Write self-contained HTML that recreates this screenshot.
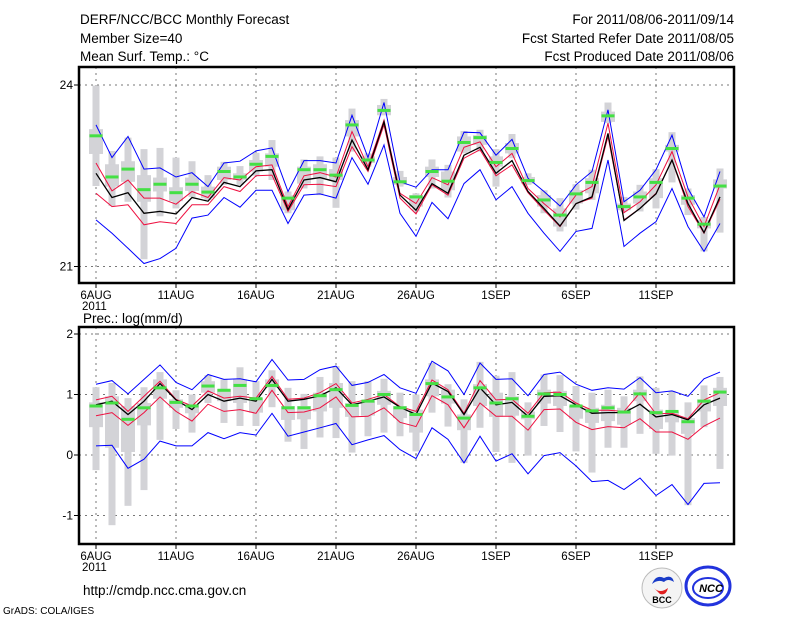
<!DOCTYPE html>
<html><head><meta charset="utf-8"><style>
body{margin:0;background:#fff;}
svg text{font-family:"Liberation Sans",sans-serif;fill:#000;}
</style></head><body>
<svg id="c" width="800" height="618" xmlns="http://www.w3.org/2000/svg">
<g font-size="13.5">
<text x="80" y="24">DERF/NCC/BCC Monthly Forecast</text>
<text x="80" y="43">Member Size=40</text>
<text x="80" y="61">Mean Surf. Temp.: °C</text>
<text x="734" y="24" text-anchor="end">For 2011/08/06-2011/09/14</text>
<text x="734" y="43" text-anchor="end">Fcst Started Refer Date 2011/08/05</text>
<text x="734" y="61" text-anchor="end">Fcst Produced Date 2011/08/06</text>
<text x="83" y="323">Prec.: log(mm/d)</text>
<text x="83" y="595">http://cmdp.ncc.cma.gov.cn</text>
<text x="3" y="614" font-size="10">GrADS: COLA/IGES</text>
</g>
<g>
<circle cx="662" cy="588" r="20" fill="#f4f4f4" stroke="#bbb"/>
<path d="M652 584 q4 -10 12 -6 q8 -4 10 4 q-6 -4 -10 0 q-6 -3 -12 2z" fill="#1a3cc8"/>
<path d="M654 588 q6 6 14 0 q-2 8 -8 6z" fill="#e02020"/>
<text x="662" y="603" font-size="9" text-anchor="middle" font-weight="bold" fill="#222">BCC</text>
<ellipse cx="708" cy="586" rx="22" ry="19" fill="#fff" stroke="#2233dd" stroke-width="3"/>
<ellipse cx="708" cy="588" rx="15" ry="10" fill="none" stroke="#2233dd" stroke-width="2"/>
<text x="711" y="592" font-size="11" text-anchor="middle" font-weight="bold" font-style="italic" fill="#2233dd">NCC</text>
</g>
</svg>
<script>
// ---- data: top panel (temperature, deg C), days 6AUG..14SEP ----
const dayLabels=["6AUG","11AUG","16AUG","21AUG","26AUG","1SEP","6SEP","11SEP"];
const tBlueHi=[23.34,22.80,23.15,22.61,22.63,22.48,22.55,22.32,22.71,22.74,22.91,22.96,22.24,22.75,22.75,22.71,23.50,22.80,23.71,22.40,22.31,22.60,22.60,23.22,23.21,22.84,23.10,22.46,22.24,22.00,22.35,22.57,23.59,22.07,22.26,22.60,23.17,22.29,21.82,22.57];
const tBlueLo=[21.77,21.55,21.30,21.05,21.13,21.30,21.80,21.85,22.14,21.98,22.26,22.26,21.71,22.18,22.20,22.13,22.80,22.36,23.01,21.88,21.50,22.06,21.79,22.37,22.60,22.10,22.32,21.88,21.55,21.25,21.58,21.63,22.76,21.33,21.55,21.74,22.29,21.66,21.25,21.71];
const tMean=[22.54,22.14,22.22,21.88,21.91,21.87,22.14,22.08,22.39,22.32,22.58,22.60,21.94,22.43,22.47,22.40,23.09,22.60,23.39,22.18,21.93,22.37,22.21,22.84,22.97,22.54,22.75,22.24,21.96,21.67,22.04,22.15,23.20,21.76,21.96,22.20,22.76,22.04,21.56,22.15];
const tRedHi=[22.71,22.25,22.43,22.13,22.13,22.03,22.24,22.14,22.47,22.43,22.65,22.68,21.99,22.50,22.55,22.48,23.23,22.65,23.42,22.21,22.04,22.47,22.35,22.97,23.06,22.65,22.87,22.29,22.04,21.82,22.18,22.32,23.37,21.89,22.07,22.35,22.90,22.15,21.66,22.35];
const tRedLo=[22.21,21.99,22.02,21.69,21.74,21.71,22.02,22.02,22.32,22.24,22.50,22.51,21.91,22.35,22.36,22.32,22.98,22.57,23.34,22.13,21.87,22.35,22.18,22.79,22.93,22.50,22.68,22.22,21.93,21.66,22.04,22.13,23.15,21.77,21.96,22.21,22.76,21.99,21.55,22.11];
const tGreen=[23.16,22.48,22.61,22.27,22.36,22.22,22.36,22.23,22.57,22.48,22.69,22.82,22.13,22.60,22.60,22.51,23.34,22.76,23.58,22.40,22.15,22.57,22.41,23.05,23.13,22.72,22.95,22.42,22.10,21.85,22.20,22.39,23.49,21.99,22.15,22.39,22.95,22.13,21.70,22.33];
const tMax=[23.99,22.91,23.13,22.94,22.96,22.80,22.74,22.51,22.73,22.66,22.88,23.09,22.24,22.77,22.82,22.80,23.61,22.87,23.77,22.58,22.21,22.77,22.68,23.24,23.26,22.94,23.19,22.54,22.26,22.13,22.36,22.60,23.71,22.15,22.35,22.61,23.22,22.29,21.82,22.62];
const tMin=[22.33,22.00,22.07,21.12,21.83,21.96,22.15,22.10,22.35,22.35,22.50,22.43,21.88,22.29,22.18,21.97,22.90,22.65,23.50,22.32,21.91,22.29,22.14,22.87,22.90,22.32,22.79,22.35,21.88,21.58,21.94,22.10,23.37,21.91,21.91,21.96,22.39,21.85,21.25,21.56];
const tQ3=[23.27,22.69,22.74,22.51,22.47,22.31,22.47,22.32,22.65,22.54,22.76,22.87,22.18,22.65,22.69,22.61,23.42,22.82,23.67,22.48,22.18,22.65,22.57,23.15,23.17,22.82,23.04,22.48,22.18,21.96,22.26,22.46,23.56,22.04,22.24,22.46,23.01,22.18,21.77,22.44];
const tQ1=[22.86,22.32,22.40,22.07,22.24,22.08,22.25,22.13,22.43,22.43,22.57,22.65,21.93,22.37,22.46,22.43,23.15,22.71,23.50,22.35,21.99,22.48,22.26,22.90,23.01,22.65,22.87,22.37,21.99,21.66,22.04,22.21,23.39,21.93,22.04,22.13,22.90,22.02,21.63,22.29];
const tTicks=[24,21];
// ---- data: bottom panel (precip, log mm/d) ----
const pBlueHi=[1.17,1.23,1.01,1.25,1.49,1.20,1.08,1.33,1.25,1.26,1.21,1.58,1.24,1.25,1.41,1.47,1.15,1.20,1.33,1.11,1.02,1.55,1.39,1.00,1.52,1.25,1.26,0.98,1.33,1.37,1.17,1.07,1.11,1.09,1.28,1.03,1.06,0.97,1.26,1.37];
const pBlueLo=[0.15,0.16,-0.22,-0.07,0.23,0.15,0.15,0.37,0.27,0.37,0.33,0.69,0.31,0.38,0.45,0.52,0.17,0.25,0.32,0.09,-0.06,0.45,0.26,-0.13,0.31,-0.10,0.02,-0.31,-0.01,0.04,-0.18,-0.44,-0.42,-0.57,-0.38,-0.67,-0.49,-0.82,-0.47,-0.46];
const pMean=[0.83,0.89,0.67,0.89,1.18,0.91,0.75,1.00,0.89,0.94,0.89,1.25,0.89,0.92,0.98,1.11,0.83,0.89,0.96,0.79,0.67,1.19,1.05,0.67,1.11,0.83,0.87,0.64,0.97,0.98,0.83,0.69,0.70,0.70,0.84,0.63,0.67,0.58,0.83,0.94];
const pRedHi=[0.91,0.97,0.72,0.97,1.22,0.92,0.81,1.06,0.94,0.97,0.94,1.30,0.92,0.94,1.03,1.18,0.86,0.92,1.00,0.80,0.72,1.24,1.08,0.69,1.23,0.91,0.92,0.69,1.03,1.04,0.86,0.74,0.74,0.72,1.03,0.68,0.69,0.60,0.91,1.03];
const pRedLo=[0.65,0.70,0.49,0.70,0.96,0.72,0.56,0.84,0.72,0.75,0.69,1.07,0.70,0.71,0.78,0.96,0.63,0.64,0.78,0.54,0.47,0.98,0.83,0.45,0.86,0.64,0.64,0.41,0.75,0.76,0.54,0.42,0.47,0.45,0.60,0.38,0.38,0.26,0.48,0.61];
const pGreen=[0.81,0.86,0.59,0.78,1.11,0.87,0.81,1.14,1.07,1.15,0.93,1.15,0.78,0.78,0.98,1.08,0.82,0.89,1.00,0.78,0.67,1.18,0.96,0.61,1.11,0.86,0.93,0.64,1.01,1.00,0.81,0.73,0.78,0.71,1.01,0.70,0.72,0.55,0.89,1.04];
const pMax=[1.12,1.19,0.94,1.12,1.37,1.07,1.00,1.32,1.25,1.45,1.22,1.40,1.11,1.01,1.29,1.47,1.22,1.22,1.26,1.03,1.00,1.52,1.17,0.92,1.54,1.31,1.37,0.87,1.33,1.32,1.14,1.03,1.08,0.97,1.30,1.11,1.06,0.87,1.15,1.29];
const pMin=[-0.25,-1.16,-0.84,-0.58,0.25,0.43,0.37,0.86,0.53,0.48,0.48,0.79,0.22,0.10,0.29,0.28,0.04,0.31,0.37,0.31,0.06,0.70,0.47,-0.13,0.45,0.05,-0.13,-0.01,0.48,0.38,0.06,-0.29,0.12,0.12,0.35,0.02,-0.01,-0.83,0.46,-0.23];
const pQ3=[0.87,0.97,0.81,0.86,1.25,0.92,0.83,1.22,1.09,1.25,0.94,1.25,0.81,0.81,1.03,1.19,0.86,0.89,1.06,0.81,0.75,1.25,1.08,0.67,1.17,1.03,0.97,0.72,1.08,1.06,0.81,0.78,0.83,0.78,1.08,0.75,0.72,0.61,0.92,1.11];
const pQ1=[0.46,0.12,0.05,0.49,0.93,0.78,0.69,1.03,0.89,0.86,0.70,1.11,0.58,0.59,0.72,0.78,0.63,0.65,0.83,0.61,0.37,0.97,0.85,0.41,0.81,0.63,0.65,0.59,0.85,0.81,0.60,0.53,0.56,0.50,0.89,0.43,0.54,0.35,0.72,0.81];
const pTicks=[2,1,0,-1];

const NS="http://www.w3.org/2000/svg";
const svg=document.getElementById('c');
const X0=79,X1=734;
function xd(d){return 96+16*d;}
function el(tag,attrs,parent){const e=document.createElementNS(NS,tag);for(const k in attrs)e.setAttribute(k,attrs[k]);(parent||svg).appendChild(e);return e;}

function panel(name,top,bot,yf,ticks,S){
  const g=el('g',{});
  
  
  ticks.forEach(t=>{
    const l=el('line',{x1:X0,x2:X1,y1:yf(t),y2:yf(t),stroke:'#777','stroke-dasharray':'2,4'},g);
    
    
    const tk=el('line',{x1:X0-5,x2:X0,y1:yf(t),y2:yf(t),stroke:'#000'},g);
    
    
    const tx=el('text',{x:X0-6,y:yf(t)+4,'text-anchor':'end','font-size':'12'},g);
    tx.textContent=String(t);
    
    
  });
  dayLabels.forEach((lab,i)=>{
    const x=xd(i*5);
    const l=el('line',{x1:x,x2:x,y1:top,y2:bot,stroke:'#777','stroke-dasharray':'2,4'},g);
    
    
    const tk=el('line',{x1:x,x2:x,y1:bot,y2:bot+5,stroke:'#000'},g);
    
    
    const tx=el('text',{x:x,y:bot+16,'text-anchor':'middle','font-size':'11.5'},g);
    tx.textContent=lab;
    
    
  });
  const yr=el('text',{x:xd(0)-14,y:bot+27,'font-size':'11.5'},g);
  yr.textContent='2011';
  
  
  S.max.forEach((v,d)=>{
    const x=xd(d);
    const w=el('rect',{x:x-3.5,y:yf(S.max[d]),width:7,height:Math.max(1,yf(S.min[d])-yf(S.max[d])),fill:'#d3d3d7'},g);
    
    
    const b=el('rect',{x:x-7,y:yf(S.q3[d]),width:14,height:Math.max(1,yf(S.q1[d])-yf(S.q3[d])),fill:'#d3d3d7'},g);
    
    
  });
  function line(arr,col,w,nm){
    const p=el('polyline',{points:arr.map((v,d)=>xd(d)+','+yf(v).toFixed(1)).join(' '),fill:'none',stroke:col,'stroke-width':w},g);
    
    
  }
  line(S.bhi,'#0000ff',1,'upper-blue-line');
  line(S.blo,'#0000ff',1,'lower-blue-line');
  line(S.rhi,'#ee1040',1,'upper-red-line');
  line(S.rlo,'#ee1040',1,'lower-red-line');
  line(S.mean,'#000',1.3,'ensemble-mean-line');
  S.green.forEach((v,d)=>{
    const r=el('rect',{x:xd(d)-6.5,y:yf(v)-1.5,width:13,height:3,fill:'#44e044'},g);
    
    
  });
  const f=el('rect',{x:X0,y:top,width:X1-X0,height:bot-top,fill:'none',stroke:'#000','stroke-width':2.5},g);
  
  
}
panel('temperature-panel',67,283,v=>85+(24-v)*60.5,tTicks,
  {max:tMax,min:tMin,q3:tQ3,q1:tQ1,bhi:tBlueHi,blo:tBlueLo,rhi:tRedHi,rlo:tRedLo,mean:tMean,green:tGreen});
panel('precipitation-panel',327,544,v=>394.5+(1-v)*60.5,pTicks,
  {max:pMax,min:pMin,q3:pQ3,q1:pQ1,bhi:pBlueHi,blo:pBlueLo,rhi:pRedHi,rlo:pRedLo,mean:pMean,green:pGreen});
</script>
</body></html>
